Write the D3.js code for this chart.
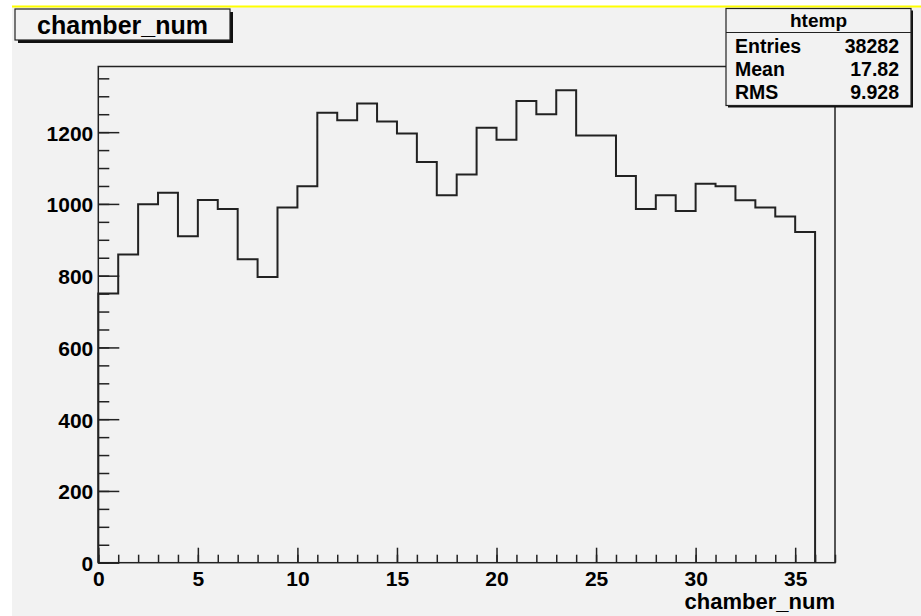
<!DOCTYPE html>
<html>
<head>
<meta charset="utf-8">
<script src="https://cdn.jsdelivr.net/npm/d3@7"></script>
<style>
html,body{margin:0;padding:0;background:#fff;}
svg{display:block;}
text{font-family:"Liberation Sans",Arial,Helvetica,sans-serif;font-weight:bold;fill:#000;}
</style>
</head>
<body>
<svg id="chart" width="921" height="616"></svg>
<script>
// ---- data ----
const binEdgesStart = 0;           // first bin lower edge
const binWidth = 1;                // bin width
const counts = [750, 859, 999, 1031, 910, 1011, 986, 846, 796, 990,
                1049, 1254, 1233, 1280, 1230, 1196, 1117, 1024, 1082, 1212,
                1179, 1287, 1250, 1317, 1191, 1191, 1078, 986, 1024, 980,
                1056, 1049, 1010, 990, 965, 922];
const xTicks = [0, 5, 10, 15, 20, 25, 30, 35];
const yTicks = [0, 200, 400, 600, 800, 1000, 1200];
const xDomain = [0, 37];
const yDomain = [0, 1383];
const titleText = "chamber_num";
const xAxisTitle = "chamber_num";
const statsName = "htemp";
const statsLabels = ["Entries", "Mean", "RMS"];
const statsValues = ["38282", "17.82", "9.928"];

// ---- layout ----
const svg = d3.select("#chart");
const W = 921, H = 616;
const bg = "#f2f2f2";
const ink = "#222";
const frame = {left: 98.3, right: 835, top: 66.5, bottom: 562.7};

svg.append("rect").attr("x", 0).attr("y", 0).attr("width", W).attr("height", H).attr("fill", "#fff");
svg.append("rect").attr("x", 12).attr("y", 6).attr("width", W - 12).attr("height", H - 6).attr("fill", bg);
svg.append("line").attr("x1", 12).attr("x2", W).attr("y1", 6.5).attr("y2", 6.5)
  .attr("stroke", "#ffff00").attr("stroke-width", 2);

const x = d3.scaleLinear().domain(xDomain).range([frame.left, frame.right]);
const y = d3.scaleLinear().domain(yDomain).range([frame.bottom, frame.top]);

// frame
svg.append("rect")
  .attr("x", frame.left).attr("y", frame.top)
  .attr("width", frame.right - frame.left).attr("height", frame.bottom - frame.top)
  .attr("fill", bg).attr("stroke", ink).attr("stroke-width", 1.5);

// histogram outline
const pts = [[binEdgesStart, 0]];
counts.forEach((c, i) => {
  const x0 = binEdgesStart + i * binWidth;
  pts.push([x0, c]);
  pts.push([x0 + binWidth, c]);
});
pts.push([binEdgesStart + counts.length * binWidth, 0]);
svg.append("path")
  .attr("d", d3.line().x(d => x(d[0])).y(d => y(d[1]))(pts))
  .attr("fill", "none").attr("stroke", ink).attr("stroke-width", 2)
  .attr("stroke-linejoin", "miter");

// x axis ticks (major every 5, minor every 1)
const xMinor = d3.range(xDomain[0], Math.floor(xDomain[1]) + 1, 1);
const xAxisMinor = d3.axisBottom(x).tickValues(xMinor).tickSize(-8).tickFormat("");
const gxm = svg.append("g").attr("transform", `translate(0,${frame.bottom})`).call(xAxisMinor);
gxm.select(".domain").remove();
gxm.selectAll("line").attr("stroke", ink).attr("stroke-width", 1.5);

const xAxisMajor = d3.axisBottom(x).tickValues(xTicks).tickSize(-15).tickPadding(24).tickFormat(d3.format("d"));
const gx = svg.append("g").attr("transform", `translate(0,${frame.bottom})`).call(xAxisMajor);
gx.select(".domain").remove();
gx.selectAll("line").attr("stroke", ink).attr("stroke-width", 1.5);
gx.selectAll("text").attr("font-size", 21).attr("fill", "#000")
  .attr("font-family", "Liberation Sans, Arial, sans-serif").attr("font-weight", "bold")
  .attr("y", 23).attr("dy", 0);

// y axis ticks (major every 200, minor every 50)
const yMinor = d3.range(0, yDomain[1], 50);
const yAxisMinor = d3.axisLeft(y).tickValues(yMinor).tickSize(-11).tickFormat("");
const gym = svg.append("g").attr("transform", `translate(${frame.left},0)`).call(yAxisMinor);
gym.select(".domain").remove();
gym.selectAll("line").attr("stroke", ink).attr("stroke-width", 1.5);

const yAxisMajor = d3.axisLeft(y).tickValues(yTicks).tickSize(-21).tickPadding(6).tickFormat(d3.format("d"));
const gy = svg.append("g").attr("transform", `translate(${frame.left},0)`).call(yAxisMajor);
gy.select(".domain").remove();
gy.selectAll("line").attr("stroke", ink).attr("stroke-width", 1.5);
gy.selectAll("text").attr("font-size", 21).attr("fill", "#000")
  .attr("font-family", "Liberation Sans, Arial, sans-serif").attr("font-weight", "bold")
  .attr("x", -5).attr("dy", "0.38em");

// axis title
svg.append("text").attr("x", frame.right).attr("y", 608.5)
  .attr("text-anchor", "end").attr("font-size", 22).text(xAxisTitle);

// title box with shadow
const tb = {x: 15, y: 9, w: 215, h: 31};
svg.append("rect").attr("x", tb.x + 3).attr("y", tb.y + 3).attr("width", tb.w).attr("height", tb.h).attr("fill", "#111");
svg.append("rect").attr("x", tb.x).attr("y", tb.y).attr("width", tb.w).attr("height", tb.h)
  .attr("fill", bg).attr("stroke", ink).attr("stroke-width", 1.2);
svg.append("text").attr("x", tb.x + tb.w / 2).attr("y", 34).attr("text-anchor", "middle")
  .attr("font-size", 25).text(titleText);

// stats box with shadow
const sb = {x: 726, y: 8.5, w: 185, h: 97};
svg.append("rect").attr("x", sb.x + 2).attr("y", sb.y + 2).attr("width", sb.w).attr("height", sb.h).attr("fill", "#111");
svg.append("rect").attr("x", sb.x).attr("y", sb.y).attr("width", sb.w).attr("height", sb.h)
  .attr("fill", bg).attr("stroke", ink).attr("stroke-width", 1.2);
svg.append("line").attr("x1", sb.x).attr("x2", sb.x + sb.w).attr("y1", 32.5).attr("y2", 32.5)
  .attr("stroke", ink).attr("stroke-width", 1.2);
svg.append("text").attr("x", sb.x + sb.w / 2).attr("y", 27).attr("text-anchor", "middle")
  .attr("font-size", 19).text(statsName);
const rowY = [52.7, 76, 99.3];
statsLabels.forEach((lab, i) => {
  svg.append("text").attr("x", 735).attr("y", rowY[i]).attr("font-size", 19.5).text(lab);
  svg.append("text").attr("x", 899).attr("y", rowY[i]).attr("text-anchor", "end").attr("font-size", 19.5).text(statsValues[i]);
});
</script>
</body>
</html>
